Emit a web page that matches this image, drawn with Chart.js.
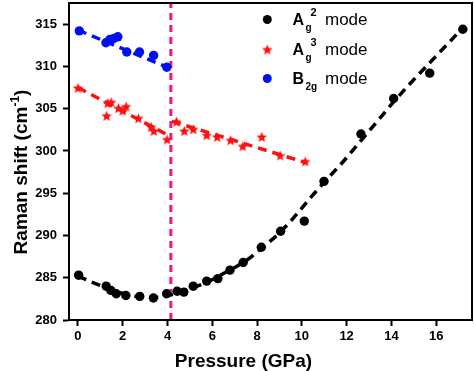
<!DOCTYPE html>
<html><head><meta charset="utf-8">
<script src="https://cdn.jsdelivr.net/npm/chart.js@4"></script>
<style>html,body{margin:0;padding:0;background:#fff}</style>
</head><body>
<canvas id="c" width="474" height="371"></canvas>
<script>
// ---- data ----
const ag2Pressure = [0.03,1.26,1.47,1.71,2.14,2.76,3.37,3.96,4.43,4.73,5.15,5.75,6.25,6.79,7.38,8.19,9.05,10.11,10.99,12.64,14.10,15.71,17.19];
const ag2Shift    = [285.3,284.0,283.5,283.1,282.9,282.8,282.6,283.1,283.4,283.3,284.0,284.6,284.9,285.9,286.8,288.6,290.5,291.7,296.4,302.0,306.2,309.2,314.4];

const ag3Pressure = [0.0,1.28,1.33,1.48,1.81,2.0,2.15,2.70,3.27,3.39,3.98,4.40,4.75,5.15,5.75,6.22,6.82,7.36,8.21,9.03,10.15];
const ag3Shift    = [307.4,304.1,305.6,305.7,305.0,304.7,305.2,303.8,302.8,302.3,301.3,303.4,302.3,302.5,301.8,301.6,301.2,300.5,301.6,299.4,298.7];

const b2gPressure = [0.06,1.25,1.43,1.60,1.78,2.18,2.75,3.38,3.97];
const b2gShift    = [314.2,312.8,313.2,313.3,313.5,311.7,311.7,311.3,309.9];

// fitted (dashed) curves
const ag2FitPressure = [0,0.7,1.5,2.2,3.0,3.6,4.2,5.0,5.8,6.5,7.5,8.3,9.0,9.6,10.4,11.0,11.9,12.6,13.4,14.1,14.85,15.7,16.6,17.2];
const ag2FitShift    = [285.2,284.4,283.6,283.0,282.7,282.7,283.0,283.7,284.5,285.5,287.0,288.7,290.3,292.0,294.5,296.3,298.9,301.1,303.6,305.8,308.0,310.4,312.9,314.6];
const ag3FitLowP  = [0,4.0];
const ag3FitLowR  = [307.5,301.9];
const ag3FitHighP = [4.2,10.2];
const ag3FitHighR = [303.5,298.6];
const b2gFitP = [0,4.0];
const b2gFitR = [314.3,309.9];

const transitionPressure = 4.15;

const xTicks = [0,2,4,6,8,10,12,14,16];
const yTicks = [280,285,290,295,300,305,310,315];
const xRange = [-0.4,17.6];
const yRange = [280,317.5];

// ---- helpers ----
const zip = (xs, ys) => xs.map((x,i)=>({x, y: ys[i]}));
function makeStar(color, r){
  const s = Math.ceil(r*2+2);
  const c = document.createElement('canvas'); c.width = s; c.height = s;
  const g = c.getContext('2d');
  g.translate(s/2, s/2);
  g.beginPath();
  for(let i=0;i<10;i++){
    const rr = i%2===0 ? r : r*0.45;
    const a = -Math.PI/2 + i*Math.PI/5;
    g.lineTo(rr*Math.cos(a), rr*Math.sin(a));
  }
  g.closePath(); g.fillStyle = color; g.fill();
  return c;
}
const starImg = makeStar('#ff1010', 5.5);
const RED = '#ff1010', BLUE = '#0010f0', PINK = '#ea1a84';
const FONT = '"Liberation Sans", Arial, sans-serif';

const framePlugin = {
  id:'frame',
  afterDraw(chart){
    const {ctx, chartArea:a} = chart;
    ctx.save();
    ctx.strokeStyle = '#000'; ctx.lineWidth = 2;
    ctx.strokeRect(a.left, a.top, a.right-a.left, a.bottom-a.top);

    // y title with superscript
    ctx.fillStyle = '#000';
    const big = 'bold 19px '+FONT, small = 'bold 12px '+FONT;
    const t1 = 'Raman shift (cm', t2 = '-1', t3 = ')';
    ctx.font = big; const w1 = ctx.measureText(t1).width, w3 = ctx.measureText(t3).width;
    ctx.font = small; const w2 = ctx.measureText(t2).width;
    const tot = w1+w2+w3;
    ctx.translate(20, 172); ctx.rotate(-Math.PI/2);
    ctx.textBaseline = 'alphabetic'; ctx.textAlign = 'left';
    let x0 = -tot/2, by = 7;
    ctx.font = big; ctx.fillText(t1, x0, by); x0 += w1;
    ctx.font = small; ctx.fillText(t2, x0, by-8); x0 += w2;
    ctx.font = big; ctx.fillText(t3, x0, by);
    ctx.restore();

    // x title
    ctx.save();
    ctx.fillStyle = '#000'; ctx.font = big; ctx.textAlign = 'center'; ctx.textBaseline = 'alphabetic';
    ctx.fillText('Pressure (GPa)', 243.5, 367);
    ctx.restore();

    // legend
    ctx.save();
    ctx.fillStyle = '#000';
    ctx.beginPath(); ctx.arc(267.3, 19.5, 4.5, 0, Math.PI*2); ctx.fill();
    ctx.drawImage(starImg, 267.3-starImg.width/2, 50-starImg.height/2);
    ctx.fillStyle = BLUE;
    ctx.beginPath(); ctx.arc(267.3, 78.5, 4.5, 0, Math.PI*2); ctx.fill();
    ctx.fillStyle = '#000'; ctx.textBaseline = 'alphabetic'; ctx.textAlign = 'left';
    const rows = [
      {main:'A', sub:'g', sup:'2', y:25},
      {main:'A', sub:'g', sup:'3', y:55},
      {main:'B', sub:'2g', sup:'', y:84}
    ];
    rows.forEach(r=>{
      ctx.font = 'bold 16px '+FONT; ctx.fillText(r.main, 292.5, r.y);
      ctx.font = 'bold 10px '+FONT; ctx.fillText(r.sub, 305.5, r.y+6);
      if(r.sup){ ctx.font = 'bold 11px '+FONT; ctx.fillText(r.sup, 310.5, r.y-9); }
      ctx.font = '17px '+FONT; ctx.fillText('mode', 325, r.y);
    });
    ctx.restore();
  }
};

const tickFont = {family: FONT, size: 13, weight: 'bold'};

new Chart(document.getElementById('c'), {
  type:'scatter',
  data:{
    datasets:[
      {label:'Ag2 fit', data: zip(ag2FitPressure, ag2FitShift), showLine:true, pointRadius:0,
       borderColor:'#000', borderWidth:3.5, borderDash:[9,6], cubicInterpolationMode:'monotone'},
      {label:'Ag3 fit low', data: zip(ag3FitLowP, ag3FitLowR), showLine:true, pointRadius:0,
       borderColor:RED, borderWidth:3.5, borderDash:[9,6]},
      {label:'Ag3 fit high', data: zip(ag3FitHighP, ag3FitHighR), showLine:true, pointRadius:0,
       borderColor:RED, borderWidth:3.5, borderDash:[9,6]},
      {label:'B2g fit', data: zip(b2gFitP, b2gFitR), showLine:true, pointRadius:0,
       borderColor:BLUE, borderWidth:3.5, borderDash:[9,6]},
      {label:'Ag2 mode', data: zip(ag2Pressure, ag2Shift), pointRadius:4.7, pointStyle:'circle',
       backgroundColor:'#000', borderColor:'#000', borderWidth:0},
      {label:'Ag3 mode', data: zip(ag3Pressure, ag3Shift), pointRadius:6, pointStyle:starImg,
       backgroundColor:RED, borderColor:RED},
      {label:'B2g mode', data: zip(b2gPressure, b2gShift), pointRadius:4.7, pointStyle:'circle',
       backgroundColor:BLUE, borderColor:BLUE, borderWidth:0},
      {label:'transition', data: [{x:transitionPressure, y:yRange[0]},{x:transitionPressure, y:yRange[1]}],
       showLine:true, pointRadius:0, borderColor:PINK, borderWidth:3, borderDash:[7,5]}
    ]
  },
  options:{
    responsive:false, animation:false, devicePixelRatio:1,
    layout:{autoPadding:false, padding:{left:0,right:2,top:3,bottom:0}},
    plugins:{legend:{display:false}, tooltip:{enabled:false}},
    scales:{
      x:{type:'linear', min:xRange[0], max:xRange[1],
         afterBuildTicks:s=>{ s.ticks = xTicks.map(v=>({value:v})); },
         afterFit:s=>{ s.height = 51; s.paddingLeft = 0; s.paddingRight = 0; },
         ticks:{color:'#000', font:tickFont, padding:3, callback:v=>String(v), maxRotation:0, autoSkip:false},
         grid:{display:true, drawOnChartArea:false, drawTicks:true, tickLength:6, tickWidth:2, tickColor:'#000'},
         border:{display:true, color:'#000', width:2},
         title:{display:false}},
      y:{type:'linear', min:yRange[0], max:yRange[1],
         afterBuildTicks:s=>{ s.ticks = yTicks.map(v=>({value:v})); },
         afterFit:s=>{ s.width = 69; s.paddingTop = 0; s.paddingBottom = 0; },
         ticks:{color:'#000', font:tickFont, padding:6, callback:v=>String(v), autoSkip:false},
         grid:{display:true, drawOnChartArea:false, drawTicks:true, tickLength:6, tickWidth:2, tickColor:'#000'},
         border:{display:true, color:'#000', width:2},
         title:{display:false}}
    }
  },
  plugins:[framePlugin]
});
</script>
</body></html>
